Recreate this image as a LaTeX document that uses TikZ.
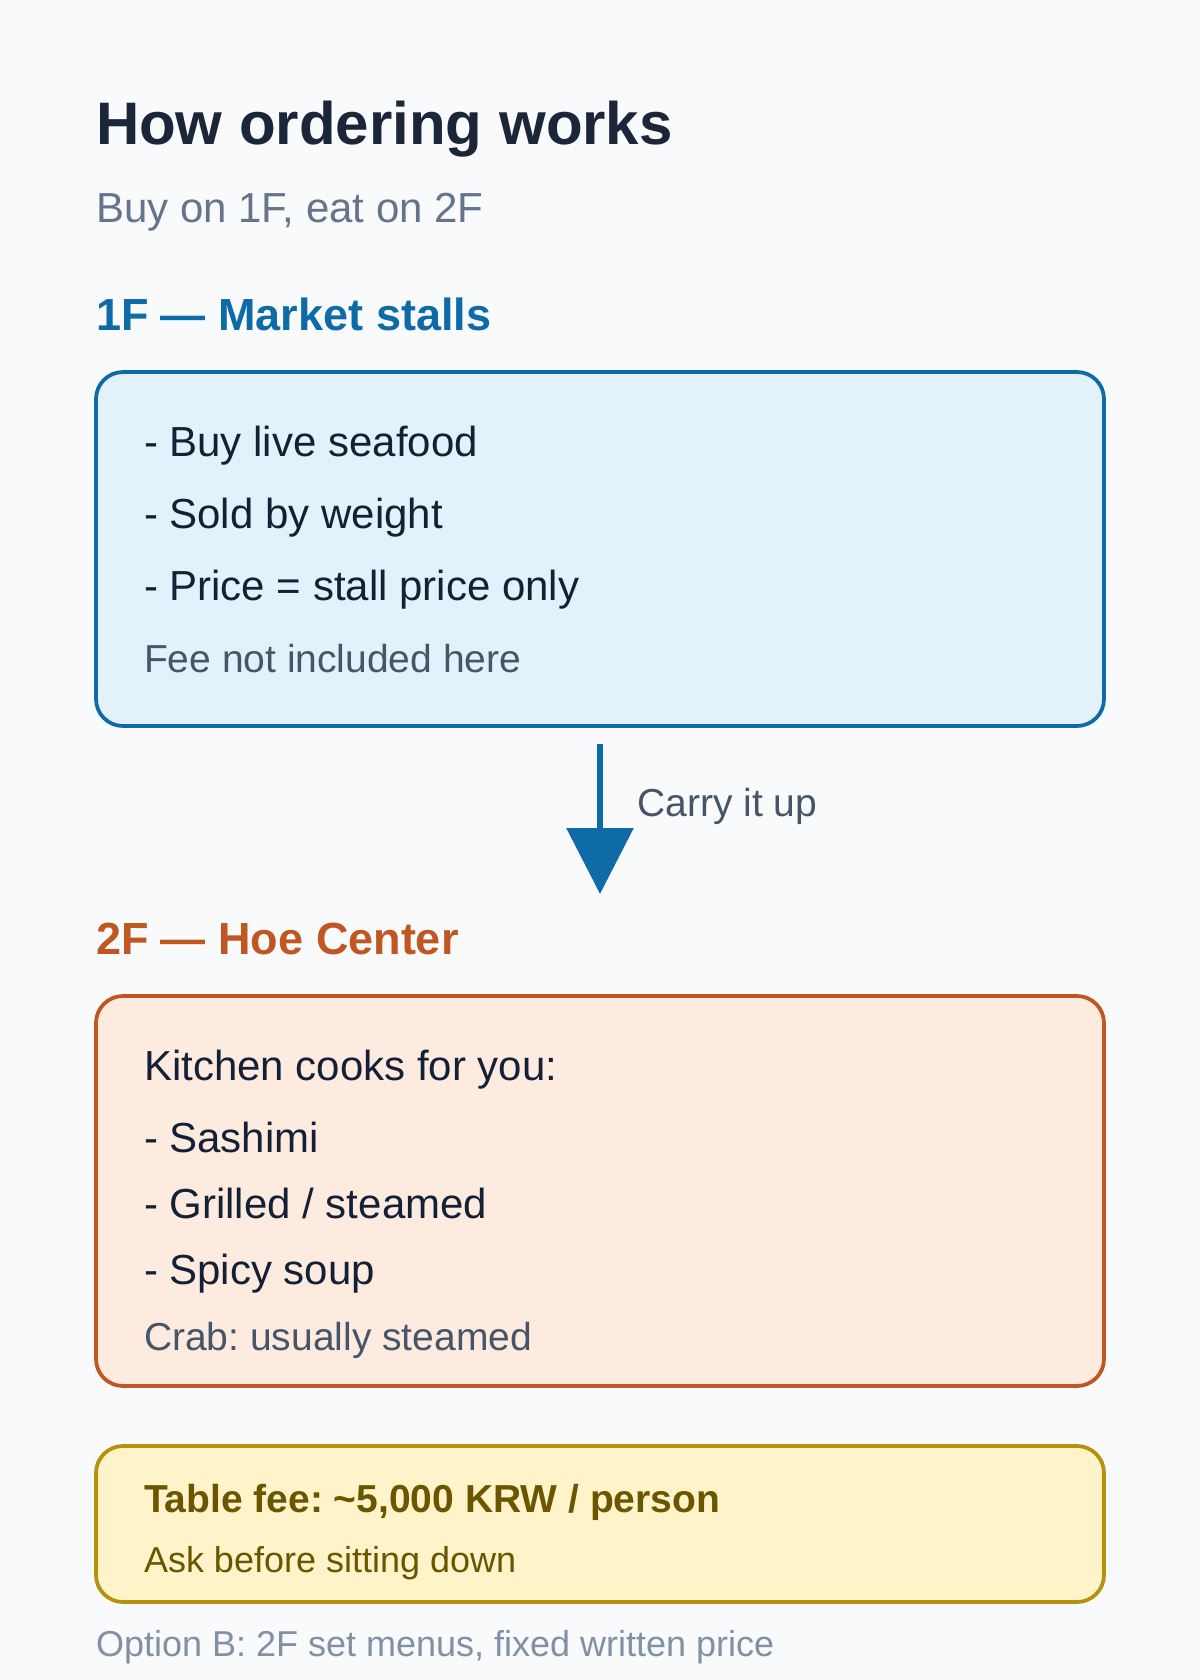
\documentclass[tikz,border=0pt]{standalone}
\usepackage{fontspec}
\setmainfont{Liberation Sans}
\usetikzlibrary{arrows.meta}
\definecolor{bgc}{HTML}{F8FAFC}
\definecolor{inkc}{HTML}{1B2738}
\definecolor{bodyc}{HTML}{132035}
\definecolor{mutedc}{HTML}{64748B}
\definecolor{notec}{HTML}{475569}
\definecolor{oneblue}{HTML}{0F6AA8}
\definecolor{onefill}{HTML}{E3F1FB}
\definecolor{twoorange}{HTML}{C05621}
\definecolor{twofill}{HTML}{FDEBE0}
\definecolor{threegold}{HTML}{B7910A}
\definecolor{threefill}{HTML}{FFF4C9}
\definecolor{threetext}{HTML}{6B5500}
\definecolor{footc}{HTML}{8091A5}
\newcommand\setfs[1]{\fontsize{#1}{#1}\selectfont}
\frenchspacing
\begin{document}
\begin{tikzpicture}[x=1pt,y=-1pt,
  txt/.style={anchor=base west, inner sep=0pt, outer sep=0pt},
  panel/.style={draw, line width=2.5pt, rounded corners=18pt, inner sep=0pt, outer sep=0pt, minimum width=672pt, anchor=north west},
  bodytxt/.style={txt, font={\setfs{28}}, text=bodyc},
  notetxt/.style={txt, font={\setfs{26}}, text=notec}
]
\fill[bgc] (0,0) rectangle (800,1120);
\useasboundingbox (0,0) rectangle (800,1120);

\node[txt, font={\setfs{40}\bfseries}, text=inkc] (title) at (64,96) {How ordering works};
\node[txt, font={\setfs{28}}, text=mutedc] (subtitle) at (64,148) {Buy on 1F, eat on 2F};

\node[txt, font={\setfs{30}\bfseries}, text=oneblue] (h1) at (64,220) {1F — Market stalls};
\node[panel, draw=oneblue, fill=onefill, minimum height=236pt] (box1) at (64,248) {};
\node[bodytxt] (b1a) at (96,304) {- Buy live seafood};
\node[bodytxt] (b1b) at (96,352) {- Sold by weight};
\node[bodytxt] (b1c) at (96,400) {- Price = stall price only};
\node[notetxt] (b1d) at (96,448) {Fee not included here};

\coordinate (astart) at (400,496);
\coordinate (atip) at (400,596);
\draw[oneblue, line width=4pt, -{Triangle[width=44pt,length=44pt]}] (astart) -- (atip);
\node[notetxt] (carry) at (425,544) {Carry it up};

\node[txt, font={\setfs{30}\bfseries}, text=twoorange] (h2) at (64,636) {2F — Hoe Center};
\node[panel, draw=twoorange, fill=twofill, minimum height=260pt] (box2) at (64,664) {};
\node[bodytxt] (b2a) at (96,720) {Kitchen cooks for you:};
\node[bodytxt] (b2b) at (96,768) {- Sashimi};
\node[bodytxt] (b2c) at (96,812) {- Grilled / steamed};
\node[bodytxt] (b2d) at (96,856) {- Spicy soup};
\node[notetxt] (b2e) at (96,900) {Crab: usually steamed};

\node[panel, draw=threegold, fill=threefill, minimum height=104pt] (box3) at (64,964) {};
\node[txt, font={\setfs{26}\bfseries}, text=threetext] (fee) at (96,1008) {Table fee: \textasciitilde5,000 KRW / person};
\node[txt, font={\setfs{24}}, text=threetext] (ask) at (96,1048) {Ask before sitting down};

\node[txt, font={\setfs{24}}, text=footc] (foot) at (64,1104) {Option B: 2F set menus, fixed written price};
\end{tikzpicture}
\end{document}
